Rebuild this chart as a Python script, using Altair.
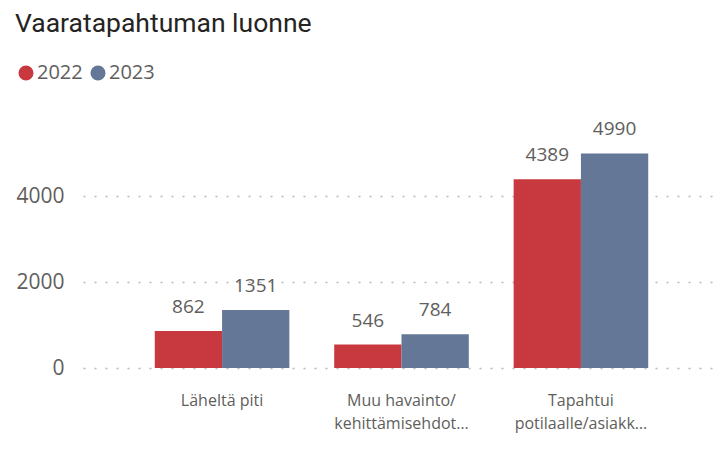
import altair as alt
import pandas as pd

categories = ["Läheltä piti", "Muu havainto/\nkehittämisehdot…", "Tapahtui\npotilaalle/asiakk…"]
years = ["2022", "2023"]
values_2022 = [862, 546, 4389]
values_2023 = [1351, 784, 4990]
colors = ["#C8393F", "#647796"]
y_ticks = [0, 2000, 4000]

rows = []
for c, a, b in zip(categories, values_2022, values_2023):
    rows.append({"cat": c, "year": "2022", "value": a})
    rows.append({"cat": c, "year": "2023", "value": b})
df = pd.DataFrame(rows)

FONT = "Open Sans"
GRAY = "#605E5C"

base = alt.Chart(df).encode(
    x=alt.X("cat:N", sort=categories,
            scale=alt.Scale(paddingInner=0.25, paddingOuter=0.4),
            axis=alt.Axis(title=None, labelAngle=0, domain=False, ticks=False,
                          labelFontSize=16, labelColor=GRAY, labelFont=FONT,
                          labelPadding=24, labelLineHeight=23,
                          labelExpr="split(datum.label, '\\n')")),
    xOffset=alt.XOffset("year:N", sort=years, scale=alt.Scale(paddingInner=0, paddingOuter=0)),
    y=alt.Y("value:Q", scale=alt.Scale(domain=[0, 6000], nice=False),
            axis=alt.Axis(title=None, values=y_ticks, format="d", domain=False, ticks=False,
                          labelFontSize=21, labelColor=GRAY, labelFont=FONT,
                          labelPadding=19, grid=True, gridDash=[2, 9],
                          gridColor="#B8B8B8", gridWidth=1.5)),
)

bars = base.mark_bar().encode(
    color=alt.Color("year:N", sort=years,
                    scale=alt.Scale(domain=years, range=colors),
                    legend=alt.Legend(title=None, orient="none", direction="horizontal",
                                      legendX=-67, legendY=-47, symbolType="circle",
                                      symbolSize=227, symbolStrokeWidth=0,
                                      labelFontSize=20, labelColor=GRAY, labelFont=FONT,
                                      labelOffset=1, columnPadding=5, padding=0))
)

labels = base.mark_text(baseline="bottom", dy=-14, fontSize=19, color=GRAY, font=FONT).encode(
    text=alt.Text("value:Q", format="d")
)

chart = (bars + labels).properties(
    width=637,
    height=258,
    padding={"left": 75, "top": 102, "right": 0, "bottom": 81},
    autosize=alt.AutoSizeParams(type="none"),
    background="white",
    title=alt.TitleParams("Vaaratapahtuman luonne", anchor="start", frame="group",
                          dx=-68, dy=-22,
                          fontSize=26.5, font="Roboto", fontWeight="normal",
                          color="#252423"),
).configure_view(stroke=None)

chart.save("out.html", embed_options={"renderer": "svg", "actions": False})
